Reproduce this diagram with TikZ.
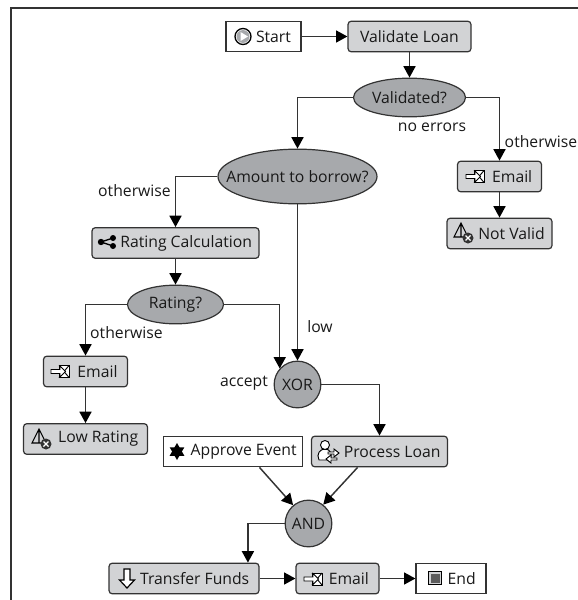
\documentclass[tikz,border=0pt]{standalone}
\usepackage{fontspec}
\setmainfont{Open Sans}
\usetikzlibrary{arrows.meta,shapes.geometric}
\definecolor{taskgray}{HTML}{D2D3D5}
\definecolor{gategray}{HTML}{A7A9AC}
\definecolor{linegray}{HTML}{333333}
\newcommand{\iconsp}[1]{\hspace*{#1pt}}
\newcommand{\choicetext}[1]{\makebox[0pt]{#1}}

\tikzset{
  mailicon/.pic={
    \draw[line width=.7pt,fill=white] (-1,-6) rectangle (9,6);
    \draw[line width=.7pt] (-1,-6) -- (9,6) (-1,6) -- (9,-6);
    \draw[line width=.7pt,fill=white] (-9,-2) -- (0,-2) -- (0,-5.5) -- (5.5,0)
      -- (0,5.5) -- (0,2) -- (-9,2) -- cycle;
  },
  warnicon/.pic={
    \draw[line width=.8pt] (0,-8) -- (-7,6) -- (7,6) -- cycle (0,-8) -- (0,6);
    \fill[linegray] (7,7) circle (5.5);
    \draw[white,line width=1pt] (4.5,4.5) -- (9.5,9.5) (4.5,9.5) -- (9.5,4.5);
  },
  shareicon/.pic={
    \draw[line width=1pt] (-6,0) -- (6,-4) (-6,0) -- (6,4);
    \fill (-6,0) circle (3.2) (6,-4) circle (3) (6,4) circle (3);
  },
  usericon/.pic={
    \draw[line width=.7pt,fill=white] (-6,9) .. controls (-9,3) and (-5,-2) .. (0,-2)
      .. controls (5,-2) and (8,3) .. (5,9) -- cycle;
    \draw[line width=.7pt,fill=white] (0,-6) circle (4.5);
    \draw[line width=.7pt,fill=white] (3,1) -- (9,1) -- (9,-2) -- (14,2) -- (9,6)
      -- (9,3) -- (3,3) -- cycle;
    \draw[line width=.7pt,fill=white] (12,7) -- (6,7) -- (6,4) -- (1,8) -- (6,12)
      -- (6,9) -- (12,9) -- cycle;
  },
  staricon/.pic={
    \fill (90:8.5) -- (210:8.5) -- (330:8.5) -- cycle;
    \fill (30:8.5) -- (150:8.5) -- (270:8.5) -- cycle;
  },
  downicon/.pic={
    \draw[line width=.9pt,fill=white] (-3,-9) -- (3,-9) -- (3,2) -- (7.5,2) -- (0,10)
      -- (-7.5,2) -- (-3,2) -- cycle;
  },
  stopicon/.pic={
    \draw[line width=.8pt,fill=taskgray] (-6.5,-6.5) rectangle (6.5,6.5);
    \fill[linegray!80] (-4.5,-4.5) rectangle (4.5,4.5);
  },
  starticon/.pic={
    \draw[line width=1pt,fill=white] (0,0) circle (8);
    \fill[gategray] (0,0) circle (6.5);
    \fill[white] (-2.5,-4.5) -- (5,0) -- (-2.5,4.5) -- cycle;
  }
}

\begin{document}
\begin{tikzpicture}[x=.75pt,y=-.75pt,
      every node/.style={font=\fontsize{11.8}{14}\selectfont,text=black!90},
      base/.style={draw=linegray,line width=.9pt,inner sep=0pt,
        minimum height=23pt},
      event/.style={base,fill=white,minimum width=#1*.75pt},
      task/.style={base,fill=taskgray,rounded corners=2.5pt,minimum width=#1*.75pt},
      gate/.style={base,fill=gategray,circle,minimum size=35pt},
      choice/.style={base,fill=gategray,ellipse,minimum width=#1*.75pt,
        minimum height=29pt},
      conn/.style={draw=linegray,line width=1.1pt,
        -{Triangle[length=8.5pt,width=9pt,color=black]}},
      elabel/.style={inner sep=0pt}]
      \useasboundingbox (0,0) rectangle (578,600);
      \draw[linegray,line width=1.4pt] (11,600) -- (11,8) -- (578,8);

      \node[event=75] (start) at (263.5,36.5) {\iconsp{15}Start};
      \node[task=123] (validate) at (409.5,36.5) {Validate Loan};
      \node[choice=112] (validated) at (409.5,97.5) {\choicetext{Validated?}};
      \node[choice=159,minimum height=41pt] (amount) at (297.5,176.5) {\choicetext{Amount to borrow?}};
      \node[task=84] (emailbad) at (499.5,176.5) {\iconsp{19}Email};
      \node[task=105] (notvalid) at (499.5,233.5) {\iconsp{18}Not Valid};
      \node[task=167] (ratingcalc) at (175.5,243) {\iconsp{16}Rating Calculation};
      \node[choice=96] (rating) at (175.5,304.5) {\choicetext{Rating?}};
      \node[task=84] (emaillow) at (85.5,371.5) {\iconsp{18}Email};
      \node[task=124] (lowrating) at (85.5,439) {\iconsp{19}Low Rating};
      \node[gate] (xorgate) at (297.5,384.5) {XOR};
      \node[event=139] (approve) at (233,451.5) {\iconsp{16}Approve Event};
      \node[task=136] (process) at (379.5,451.5) {\iconsp{19}Process Loan};
      \node[gate] (andgate) at (308.5,523.5) {AND};
      \node[task=150] (transfer) at (184,578.5) {\iconsp{16}Transfer Funds};
      \node[task=83] (emailend) at (337.5,578.5) {\iconsp{17}Email};
      \node[event=70] (finish) at (451,578.5) {\iconsp{16}End};

      % icons
      \pic at (243,36.5) {starticon};
      \pic at (475,176.5) {mailicon};
      \pic at (461,231) {warnicon};
      \pic at (107,242) {shareicon};
      \pic at (60,371.5) {mailicon};
      \pic at (39,437) {warnicon};
      \pic at (177,451.5) {staricon};
      \pic at (325,451) {usericon};
      \pic at (127,578) {downicon};
      \pic at (313,579) {mailicon};
      \pic at (435,578) {stopicon};

      \node[elabel] (noerrors) at (432,127) {no errors};
      \node[elabel] (otherright) at (541,142) {otherwise};
      \node[elabel] (otherleft) at (134.5,191) {otherwise};
      \node[elabel] (otherlow) at (126.5,333) {otherwise};
      \node[elabel] (low) at (320,327) {low};
      \node[elabel] (accept) at (244,383) {accept};

      \draw[conn] (start) -- (validate);
      \draw[conn] (validate) -- (validated);
      \draw[conn] (validated.west) -| (amount.north);
      \draw[conn] (validated.east) -| (emailbad.north);
      \draw[conn] (emailbad) -- (notvalid);
      \draw[conn] (amount.west) -| (ratingcalc.north);
      \draw[conn] (amount.south) -- (xorgate.north);
      \draw[conn] (ratingcalc) -- (rating);
      \draw[conn] (rating.west) -| (emaillow.north);
      \draw[conn] (rating.east) -| (xorgate.138);
      \draw[conn] (emaillow) -- (lowrating);
      \draw[conn] (xorgate.east) -| (process.north);
      \draw[conn] (approve.-31) -- (andgate.130);
      \draw[conn] (process.-144) -- (andgate.52);
      \draw[conn] (andgate.west) -| (transfer.14.5);
      \draw[conn] (transfer) -- (emailend);
      \draw[conn] (emailend) -- (finish);
    \end{tikzpicture}
\end{document}
